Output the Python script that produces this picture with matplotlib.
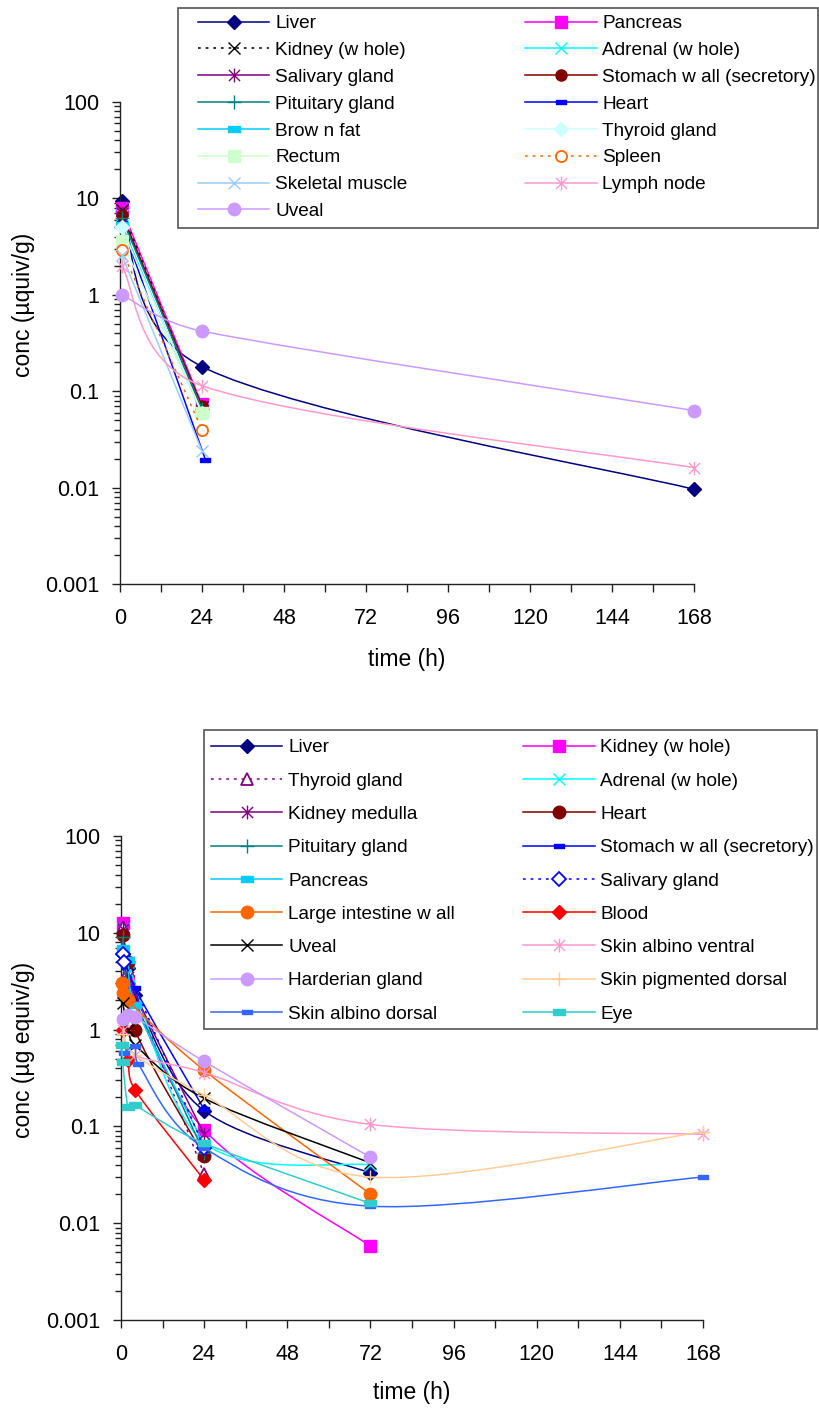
import numpy as np
import matplotlib
matplotlib.use("Agg")
import matplotlib.pyplot as plt
from matplotlib.path import Path
from matplotlib.patches import PathPatch, Rectangle
from matplotlib.lines import Line2D
from matplotlib.ticker import LogLocator, NullFormatter, FuncFormatter

plt.rcParams['font.family'] = ['Liberation Sans', 'DejaVu Sans']

# ---- data: top panel (µquiv/g) ----
top_names = ["Liver", "Pancreas", "Kidney (w hole)", "Adrenal (w hole)",
             "Salivary gland", "Stomach w all (secretory)", "Pituitary gland", "Heart",
             "Brow n fat", "Thyroid gland", "Rectum", "Spleen",
             "Skeletal muscle", "Lymph node", "Uveal"]
top_times = [[0.5, 24, 168], [0.5, 24], [0.5, 24], [0.5, 24],
             [0.5, 24], [0.5, 24], [0.5, 24], [0.5, 25],
             [0.5, 24], [0.5, 24], [0.5, 24], [0.5, 24],
             [0.5, 24], [0.5, 24, 168], [0.5, 24, 168]]
top_values = [[9.5, 0.18, 0.0096], [7.9, 0.073], [7.5, 0.068], [6.8, 0.065],
              [7.0, 0.062], [6.8, 0.07], [6.3, 0.066], [5.5, 0.0195],
              [5.3, 0.058], [5.0, 0.06], [3.6, 0.06], [2.9, 0.040],
              [2.6, 0.024], [2.0, 0.114, 0.0161], [1.0, 0.42, 0.063]]

# ---- data: bottom panel (µg equiv/g) ----
bot_names = ["Liver", "Kidney (w hole)", "Thyroid gland", "Adrenal (w hole)",
             "Kidney medulla", "Heart", "Pituitary gland", "Stomach w all (secretory)",
             "Pancreas", "Salivary gland", "Large intestine w all", "Blood",
             "Uveal", "Skin albino ventral", "Harderian gland", "Skin pigmented dorsal",
             "Skin albino dorsal", "Eye"]
bot_times = [[0.5, 2, 4, 24, 72], [0.5, 2, 24, 72], [0.5, 2, 24], [0.5, 2, 24, 72],
             [0.5, 2, 24], [0.5, 2, 4, 24], [0.5, 2, 24], [0.5, 4, 24],
             [0.5, 2, 4, 24], [0.5, 1, 24], [0.25, 0.5, 2, 24, 72], [0.5, 2, 4, 24],
             [0.5, 2, 4, 24, 72], [0.5, 4, 24, 72, 168], [0.5, 2, 4, 24, 72], [0.5, 4, 24, 72, 168],
             [1, 4, 5, 24, 72, 168], [0.25, 0.5, 2, 4, 24, 72]]
bot_values = [[6.0, 4.3, 2.3, 0.145, 0.033], [12.5, 3.2, 0.092, 0.0058], [11.5, 4.0, 0.032], [11.0, 5.0, 0.068, 0.040],
              [11.0, 3.5, 0.083], [9.6, 5.0, 1.0, 0.049], [9.0, 3.0, 0.053], [7.0, 2.7, 0.15],
              [7.0, 5.2, 1.8, 0.065], [6.0, 5.0, 0.060], [3.0, 2.4, 2.0, 0.38, 0.020], [1.0, 0.48, 0.24, 0.028],
              [1.9, 1.0, 0.70, 0.195, 0.042], [1.0, 0.55, 0.36, 0.105, 0.083], [1.3, 1.4, 1.36, 0.47, 0.048], [0.9, 0.55, 0.21, 0.030, 0.088],
              [0.58, 0.68, 0.44, 0.06, 0.015, 0.030], [0.7, 0.46, 0.16, 0.165, 0.067, 0.016]]

x_ticks = [0, 24, 48, 72, 96, 120, 144, 168]

# ---- marker shapes ----
star = Path([(-1, -1), (1, 1), (-1, 1), (1, -1), (0, -1.25), (0, 1.25)],
            [Path.MOVETO, Path.LINETO, Path.MOVETO, Path.LINETO, Path.MOVETO, Path.LINETO])
bar = Path([(-1, -0.45), (1, -0.45), (1, 0.45), (-1, 0.45), (-1, -0.45)],
           [Path.MOVETO, Path.LINETO, Path.LINETO, Path.LINETO, Path.CLOSEPOLY])


def st(color, marker, ms=7, ls='-', mfc=None, mew=1.0):
    return dict(color=color, marker=marker, ms=ms, ls=ls,
                mfc=color if mfc is None else mfc, mew=mew)


dots = (0, (1.8, 3.2))
top_styles = [st('#000080', 'D', 7), st('#FF00FF', 's', 8), st('black', 'x', 8, dots), st('#00FFFF', 'x', 8),
              st('#800080', star, 10), st('#800000', 'o', 8), st('#008080', '+', 10), st('#0000FF', bar, 7),
              st('#00CCFF', bar, 9), st('#CCFFFF', 'D', 7), st('#CCFFCC', 's', 9), st('#FF6600', 'o', 8, dots, 'white', 1.3),
              st('#99CCFF', 'x', 8), st('#FF99CC', star, 10), st('#CC99FF', 'o', 9)]
bot_styles = [st('#000080', 'D', 7), st('#FF00FF', 's', 9), st('#800080', '^', 8, dots, 'white', 1.3), st('#00FFFF', 'x', 8),
              st('#800080', star, 10), st('#800000', 'o', 9), st('#008080', '+', 10), st('#0000FF', bar, 7),
              st('#00CCFF', bar, 9), st('#0000FF', 'D', 7, dots, 'white', 1.3), st('#FF6600', 'o', 9), st('#FF0000', 'D', 7),
              st('black', 'x', 9), st('#FF99CC', star, 10), st('#CC99FF', 'o', 9), st('#FFCC99', '+', 10),
              st('#3366FF', bar, 7), st('#33CCCC', bar, 9)]


def smooth(ax, t, c, style, z, sx, sy):
    # Excel-style smoothed line: Bezier segments computed in screen units,
    # control arms 1/6 of the neighbour chord, capped at half the segment length
    P = np.column_stack([np.asarray(t, float) * sx, np.log10(np.asarray(c, float)) * sy])
    n = len(P)
    verts = [P[0]]
    codes = [Path.MOVETO]
    for i in range(n - 1):
        p0 = P[i - 1] if i > 0 else P[i]
        p1, p2 = P[i], P[i + 1]
        p3 = P[i + 2] if i + 2 < n else P[i + 1]
        d12 = np.hypot(*(p2 - p1))
        d02 = np.hypot(*(p2 - p0))
        d13 = np.hypot(*(p3 - p1))
        f1 = min(1 / 6, d12 / (2 * d02)) if d02 > 0 else 0
        f2 = min(1 / 6, d12 / (2 * d13)) if d13 > 0 else 0
        verts += [p1 + (p2 - p0) * f1, p2 - (p3 - p1) * f2, p2]
        codes += [Path.CURVE4] * 3
    verts = np.array(verts)
    verts = np.column_stack([verts[:, 0] / sx, 10 ** (verts[:, 1] / sy)])
    ax.add_patch(PathPatch(Path(verts, codes), fill=False, edgecolor=style['color'],
                           lw=1.1, linestyle=style['ls'], zorder=z, capstyle='butt'))
    ax.plot(t, c, ls='none', marker=style['marker'], ms=style['ms'], color=style['color'],
            mfc=style['mfc'], mew=style['mew'], zorder=z + 0.5, clip_on=False)


W, H = 820, 1412
fig = plt.figure(figsize=(W / 100, H / 100), dpi=100)


def fax(x0, y0, x1, y1):
    return fig.add_axes([x0 / W, 1 - y1 / H, (x1 - x0) / W, (y1 - y0) / H])


def panel(ax, names, times, values, styles, ylabel, ylab_y, xlab_y, leg_box, frame, spacing):
    bb = ax.get_position()
    sx = bb.width * W / 168.0
    sy = bb.height * H / 5.0
    for i, (t, v, s) in enumerate(zip(times, values, styles)):
        smooth(ax, t, v, s, 2 + i, sx, sy)
    ax.set_yscale('log')
    ax.set_xlim(0, 168)
    ax.set_xticks(x_ticks)
    ax.set_xticks([12, 36, 60, 84, 108, 132, 156], minor=True)
    ax.yaxis.set_major_locator(LogLocator(base=10, numticks=10))
    ax.yaxis.set_minor_locator(LogLocator(base=10, subs=np.arange(2, 10), numticks=20))
    ax.yaxis.set_minor_formatter(NullFormatter())
    ax.yaxis.set_major_formatter(FuncFormatter(lambda v, p: f"{v:g}"))
    ax.set_ylim(1e-3, 100)
    for sp in ('top', 'right'):
        ax.spines[sp].set_visible(False)
    for sp in ('left', 'bottom'):
        ax.spines[sp].set_linewidth(1.0)
        ax.spines[sp].set_color('#222222')
    ax.tick_params(which='both', direction='out', width=1.0, color='#222222', labelsize=15.5)
    ax.tick_params(axis='x', which='both', length=6, pad=11)
    ax.tick_params(axis='y', which='major', length=6, pad=9)
    ax.tick_params(axis='y', which='minor', length=4)
    fig.text(24 / W, 1 - ylab_y / H, ylabel, rotation=90, ha='center', va='center', fontsize=16.5)
    fig.text((bb.x0 + bb.x1) / 2, 1 - xlab_y / H, 'time (h)', ha='center', va='center', fontsize=16.5)

    handles = [Line2D([], [], color=s['color'], ls=s['ls'], lw=1.1, marker=s['marker'], ms=s['ms'],
                      mfc=s['mfc'], mew=s['mew']) for s in styles]
    order = list(range(0, len(names), 2)) + list(range(1, len(names), 2))
    x0, y0, x1 = leg_box
    leg = fig.legend([handles[k] for k in order], [names[k] for k in order], ncol=2, mode='expand',
                     loc='upper left', bbox_to_anchor=(x0 / W, 1 - y0 / H, (x1 - x0) / W, 0),
                     frameon=False, borderpad=0, borderaxespad=0, fontsize=13.7,
                     handlelength=3.75, handletextpad=0.3, labelspacing=spacing, numpoints=1)
    leg.set_zorder(6)
    fx0, fy0, fx1, fy1 = frame
    box = Rectangle((fx0 / W, 1 - fy1 / H), (fx1 - fx0) / W, (fy1 - fy0) / H,
                    transform=fig.transFigure, facecolor='white',
                    edgecolor='#555555', lw=1.2, zorder=3)
    fig.patches.append(box)


ax1 = fax(120, 102, 694, 584)
ax2 = fax(121, 836, 703, 1320)

panel(ax1, top_names, top_times, top_values, top_styles, 'conc (µquiv/g)', 305, 660,
      (198, 15, 816), (178, 8, 818, 228), 0.50)
panel(ax2, bot_names, bot_times, bot_values, bot_styles, 'conc (µg equiv/g)', 1050, 1393,
      (211, 739, 814), (204, 730, 817, 1029), 0.84)

fig.savefig('out.png', dpi=100)
